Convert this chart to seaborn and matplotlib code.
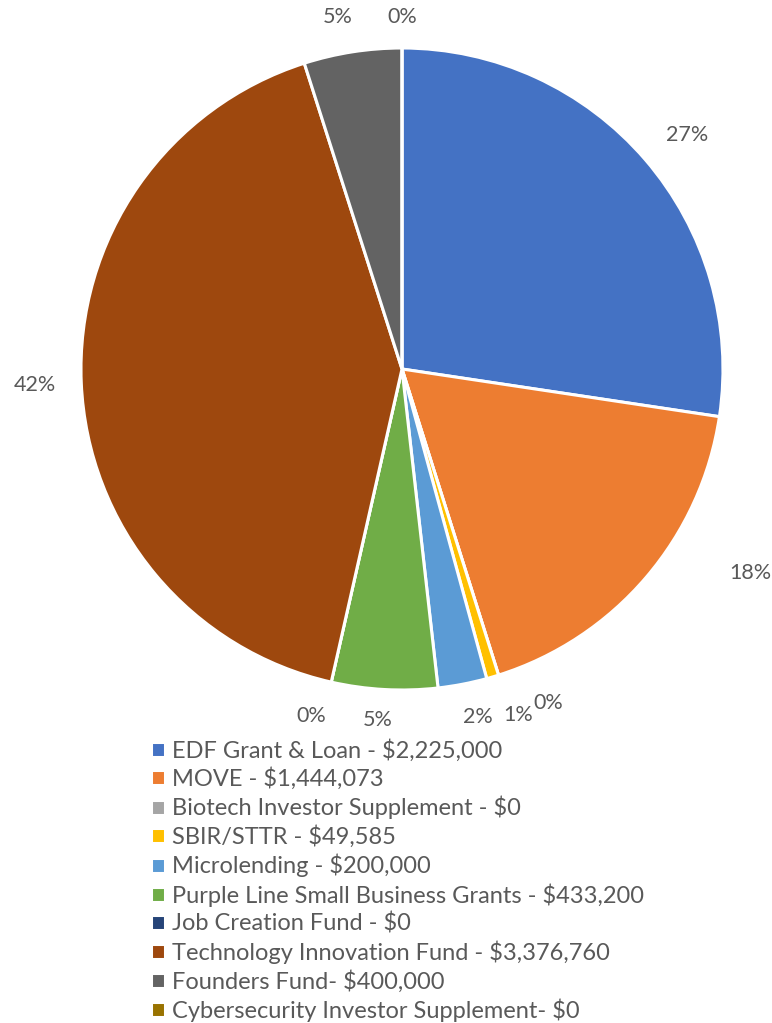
import numpy as np
import matplotlib.pyplot as plt
import seaborn as sns

# funding by program
programs = ['EDF Grant & Loan - $2,225,000', 'MOVE - $1,444,073',
            'Biotech Investor Supplement - $0', 'SBIR/STTR - $49,585',
            'Microlending - $200,000', 'Purple Line Small Business Grants - $433,200',
            'Job Creation Fund - $0', 'Technology Innovation Fund - $3,376,760',
            'Founders Fund- $400,000', 'Cybersecurity Investor Supplement- $0']
amounts = [2225000, 1444073, 0, 49585, 200000, 433200, 0, 3376760, 400000, 0]
colors = ['#4472C4', '#ED7D31', '#A5A5A5', '#FFC000', '#5B9BD5',
          '#70AD47', '#264478', '#9E480E', '#636363', '#997300']

sns.set_theme(style='white')
plt.rcParams['font.family'] = ['Lato', 'DejaVu Sans']
txt = '#595959'

fig = plt.figure(figsize=(7.72, 10.23), dpi=100)
ax = fig.add_axes([0.1049, 0.3255, 0.8316, 0.6276])

wedges, texts, autotexts = ax.pie(
    amounts, colors=colors, startangle=90, counterclock=False, radius=1,
    autopct=lambda p: f'{p:.0f}%', pctdistance=1.1,
    wedgeprops=dict(edgecolor='white', linewidth=2.2),
    textprops=dict(color=txt, fontsize=15.5))
ax.set_xlim(-1, 1)
ax.set_ylim(-1, 1)
ax.set_aspect('equal')

# small nudges so the tiny slices don't collide (Excel-style placement)
nudges = [(0.054, 0.011), (0.248, 0.078), (0.124, 0.009), (0.051, -0.022),
          (0.029, -0.004), (-0.016, 0.005), (-0.041, -0.008), (-0.044, -0.002),
          (-0.032, 0.01), (0.0, -0.003)]
for t, (dx, dy) in zip(autotexts, nudges):
    x, y = t.get_position()
    t.set_position((x + dx, y + dy))

fig.legend(wedges, programs, loc='upper left', bbox_to_anchor=(0.183, 0.287),
           frameon=False, fontsize=17, labelcolor=txt,
           handlelength=0.6, handleheight=0.6, handletextpad=0.3,
           labelspacing=0.25, borderaxespad=0)

fig.savefig('out.png', dpi=100)
